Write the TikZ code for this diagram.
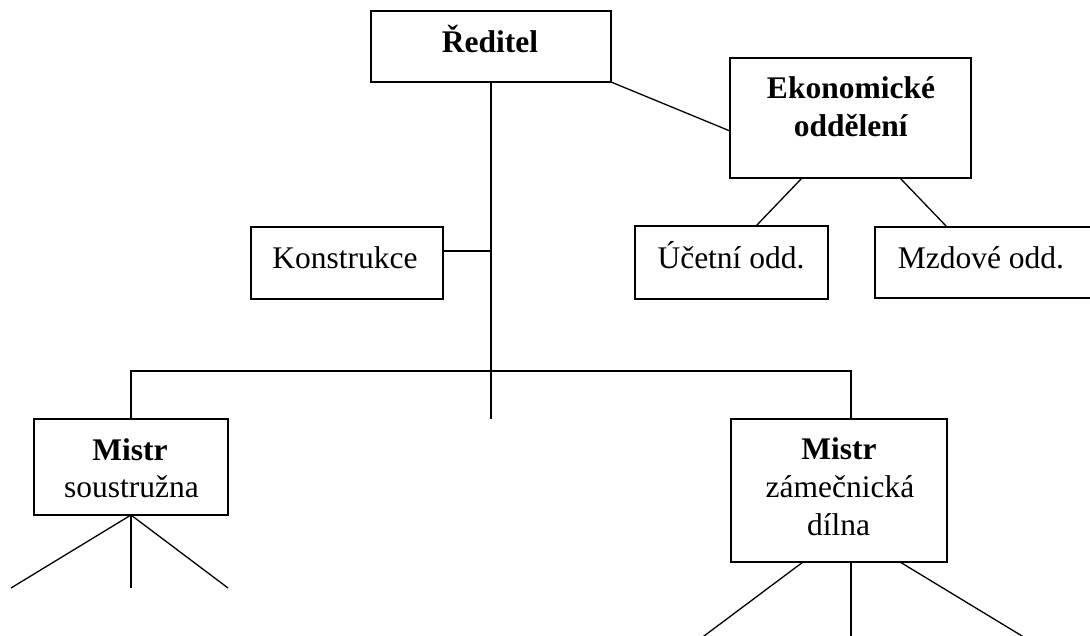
\documentclass[tikz,border=0pt]{standalone}
\usepackage{fontspec}
\setmainfont{Liberation Serif}
\usetikzlibrary{calc}
\tikzset{
  box/.style={draw=black, line width=1.4pt, rectangle, inner sep=0pt, outer sep=0pt, fill=white},
  lbl/.style={anchor=base, inner sep=0pt, font=\fontsize{31.5}{38}\selectfont},
  conn/.style={draw=black, line width=1.3pt}
}
\begin{document}
\begin{tikzpicture}[x=1pt, y=-1pt]
\fill[white] (0,0) rectangle (1090,635);
\clip (0,0) rectangle (1090,635);
% boxes
\node[box, minimum width=240pt, minimum height=71pt] (r) at (491,46.5) {};
\node[box, minimum width=241pt, minimum height=120pt] (e) at (850.5,118) {};
\node[box, minimum width=192pt, minimum height=72pt] (k) at (347,263) {};
\node[box, minimum width=193pt, minimum height=73pt] (u) at (731.5,262.5) {};
\node[box, minimum width=225pt, minimum height=71pt] (z) at (987.5,262.5) {};
\node[box, minimum width=194pt, minimum height=96pt] (m1) at (131,467) {};
\node[box, minimum width=216pt, minimum height=143pt] (m2) at (839,490.5) {};
% texts
\node[lbl] (tr) at (490,52) {\textbf{Ředitel}};
\node[lbl] (te1) at (851,98) {\textbf{Ekonomické}};
\node[lbl] (te2) at (851,136) {\textbf{oddělení}};
\node[lbl] (tk) at (345,268) {Konstrukce};
\node[lbl] (tu) at (731,268) {Účetní odd.};
\node[lbl] (tz) at (981,268) {Mzdové odd.};
\node[lbl] (tm1a) at (130,460) {\textbf{Mistr}};
\node[lbl] (tm1b) at (131.5,497) {soustružna};
\node[lbl] (tm2a) at (839,459) {\textbf{Mistr}};
\node[lbl] (tm2b) at (840,497) {zámečnická};
\node[lbl] (tm2c) at (838.5,535) {dílna};
% coordinates
\coordinate (rend) at (491,419);
\coordinate (kj) at (491,251);
\coordinate (ein) at (730,131);
\coordinate (j2) at (851,419);
\coordinate (l1) at (11,588);
\coordinate (l2) at (131,588);
\coordinate (l3) at (228,588);
\coordinate (s1) at (803,562);
\coordinate (s2) at (851,562);
\coordinate (s3) at (900,562);
\coordinate (b1) at (700,639);
\coordinate (b2) at (851,639);
\coordinate (b3) at (1027,639);
% connectors
\draw[conn] (r.south) -- (rend);
\draw[conn] (k.east |- kj) -- (kj);
\draw[conn] (m1.north) -- ++(0,-48) -| (j2);
\draw[conn] (r.south east) -- (ein);
\draw[conn] ($(e.south west)+(72,0)$) -- ($(u.north west)+(121,0)$);
\draw[conn] ($(e.south west)+(170,0)$) -- ($(z.north west)+(72,0)$);
\draw[conn] (m1.south) -- (l1);
\draw[conn] (m1.south) -- (l2);
\draw[conn] (m1.south) -- (l3);
\draw[conn] (s1) -- (b1);
\draw[conn] (s2) -- (b2);
\draw[conn] (s3) -- (b3);
\end{tikzpicture}
\end{document}
